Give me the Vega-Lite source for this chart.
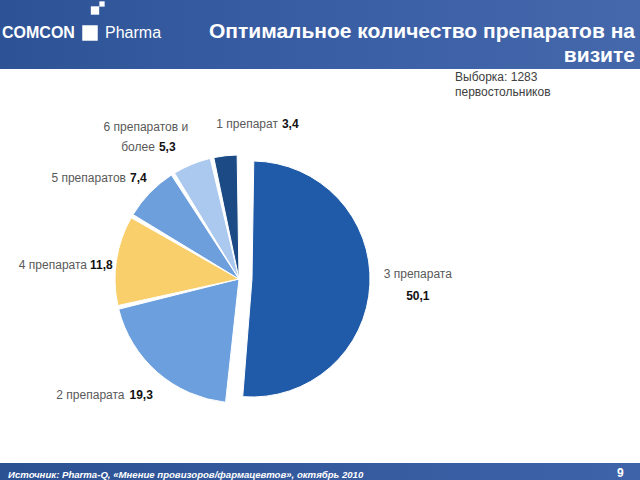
{
  "$schema": "https://vega.github.io/schema/vega-lite/v6.json",
  "padding": 0,
  "autosize": {"type": "pad"},
  "background": "#ffffff",
  "spacing": 0,
  "bounds": "flush",
  "resolve": {"scale": {"shape": "independent", "color": "independent", "opacity": "independent"}, "legend": {"shape": "independent", "color": "independent", "opacity": "independent"}},
  "config": {"view": {"stroke": null}, "concat": {"spacing": 0}, "title": {"frame": "group"}},
  "datasets": {
    "d": [
      {"cat": "3 препарата", "name": "3 препарата", "num": "50,1", "v": 50.1, "o": 1},
      {"cat": "2 препарата", "name": "2 препарата", "num": "19,3", "v": 19.3, "o": 2},
      {"cat": "4 препарата", "name": "4 препарата", "num": "11,8", "v": 11.8, "o": 3},
      {"cat": "5 препаратов", "name": "5 препаратов", "num": "7,4", "v": 7.4, "o": 4},
      {"cat": "6 препаратов и более", "name": "6 препаратов и более", "l1": "6 препаратов и", "l2": "более", "num": "5,3", "v": 5.3, "o": 5},
      {"cat": "1 препарат", "name": "1 препарат", "num": "3,4", "v": 3.4, "o": 6}
    ],
    "brand": [{"brand": "Pharma", "s1": "a", "s2": "b"}],
    "page": [{"page": "9"}],
    "one": [{"k": 1}]
  },
  "vconcat": [
    {
      "width": 640, "height": 69,
      "data": {"name": "brand"},
      "title": {"text": ["Оптимальное количество препаратов на", "визите"], "anchor": "end", "align": "right", "orient": "bottom", "baseline": "top", "offset": -48, "dx": -5, "font": "Liberation Sans", "fontSize": 21, "lineHeight": 24, "fontWeight": "bold", "color": "#ffffff"},
      "resolve": {"scale": {"shape": "independent", "color": "independent", "opacity": "independent"}},
      "layer": [
        {
          "mark": {"type": "rect", "color": {"gradient": "linear", "x1": 0, "x2": 1, "y1": 0, "y2": 0, "stops": [{"offset": 0, "color": "#2d5396"}, {"offset": 0.5, "color": "#3a5ea4"}, {"offset": 1, "color": "#4568ac"}]}}
        },
        {
          "mark": {"type": "point", "filled": true, "color": "#ffffff", "opacity": 0},
          "encoding": {
            "shape": {"field": "brand", "type": "nominal", "scale": {"range": ["square"]},
              "legend": {"orient": "none", "legendX": 2, "legendY": 25, "padding": 0,
                "title": "COMCON", "titleOrient": "left", "titleAnchor": "start", "titleBaseline": "top", "titlePadding": 7,
                "titleFont": "Liberation Sans", "titleFontSize": 16, "titleFontWeight": "bold", "titleColor": "#ffffff",
                "labelFont": "Liberation Sans", "labelFontSize": 16, "labelFontWeight": "normal", "labelColor": "#ffffff", "labelOffset": 7,
                "symbolSize": 240, "symbolFillColor": "#ffffff", "symbolStrokeColor": "#ffffff", "symbolStrokeWidth": 0, "symbolOpacity": 1}}
          }
        },
        {
          "mark": {"type": "point", "filled": true, "opacity": 0},
          "encoding": {
            "color": {"field": "s1", "type": "nominal", "scale": {"range": ["#ffffff"]},
              "legend": {"orient": "none", "legendX": 90.5, "legendY": 6, "padding": 0, "title": null,
                "labelExpr": "''", "labelFontSize": 1, "labelOffset": 0,
                "symbolType": "square", "symbolSize": 70, "symbolStrokeWidth": 0, "symbolOpacity": 1}}
          }
        },
        {
          "mark": {"type": "point", "filled": true, "color": "#ffffff", "size": 0},
          "encoding": {
            "opacity": {"field": "s2", "type": "nominal", "scale": {"range": [1]},
              "legend": {"orient": "none", "legendX": 99, "legendY": 1, "padding": 0, "title": null,
                "labelExpr": "''", "labelFontSize": 1, "labelOffset": 0,
                "symbolType": "square", "symbolSize": 28, "symbolFillColor": "#ffffff", "symbolStrokeWidth": 0}}
          }
        }
      ]
    },
    {
      "width": 640, "height": 26,
      "data": {"name": "one"},
      "mark": {"type": "rect", "color": "#ffffff"},
      "title": {"text": ["Выборка: 1283", "первостольников"], "anchor": "start", "align": "left", "orient": "bottom", "baseline": "top", "offset": -23.5, "dx": 455, "font": "Liberation Sans", "fontSize": 12, "lineHeight": 15, "fontWeight": "normal", "color": "#404040"}
    },
    {
      "width": 478, "height": 368,
      "data": {"name": "d"},
      "encoding": {
        "theta": {"field": "v", "type": "quantitative", "stack": true},
        "order": {"field": "o", "type": "quantitative"}
      },
      "layer": [
        {
          "mark": {"type": "arc", "outerRadius": 124, "padAngle": 0.03, "stroke": "#ffffff", "strokeWidth": 1},
          "encoding": {
            "color": {"field": "cat", "type": "nominal", "legend": null,
              "scale": {"domain": ["3 препарата", "2 препарата", "4 препарата", "5 препаратов", "6 препаратов и более", "1 препарат"],
                        "range": ["#1f5ba8", "#6b9fdd", "#f9cf6b", "#6c9fdc", "#abc9ef", "#1b4a85"]}},
            "opacity": {"condition": {"test": "datum.cat === '3 препарата'", "value": 0}, "value": 1}
          }
        },
        {
          "mark": {"type": "arc", "outerRadius": 118, "padAngle": 0.03, "stroke": "#ffffff", "strokeWidth": 1, "xOffset": 13},
          "encoding": {
            "color": {"field": "cat", "type": "nominal", "legend": null},
            "opacity": {"condition": {"test": "datum.cat === '3 препарата'", "value": 1}, "value": 0}
          }
        },
        {
          "mark": {"type": "text", "radius": 179, "align": "center", "baseline": "middle", "dy": -13, "font": "Liberation Sans", "fontSize": 12, "fill": "#595959"},
          "encoding": {"text": {"condition": {"test": "datum.cat === '3 препарата'", "field": "name", "type": "nominal"}, "value": ""}}
        },
        {
          "mark": {"type": "text", "radius": 179, "align": "center", "baseline": "middle", "dy": 9, "font": "Liberation Sans", "fontSize": 12, "fontWeight": "bold", "fill": "#111111"},
          "encoding": {"text": {"condition": {"test": "datum.cat === '3 препарата'", "field": "num", "type": "nominal"}, "value": ""}}
        },
        {
          "mark": {"type": "text", "radius": 156, "align": "right", "baseline": "middle", "dx": -12, "dy": -1.5, "font": "Liberation Sans", "fontSize": 12, "fill": "#595959"},
          "encoding": {"text": {"condition": {"test": "datum.cat === '2 препарата'", "field": "name", "type": "nominal"}, "value": ""}}
        },
        {
          "mark": {"type": "text", "radius": 156, "align": "left", "baseline": "middle", "dx": -7, "dy": -1.5, "font": "Liberation Sans", "fontSize": 12, "fontWeight": "bold", "fill": "#111111"},
          "encoding": {"text": {"condition": {"test": "datum.cat === '2 препарата'", "field": "num", "type": "nominal"}, "value": ""}}
        },
        {
          "mark": {"type": "text", "radius": 152, "align": "right", "baseline": "middle", "dx": -1.7, "dy": 9, "font": "Liberation Sans", "fontSize": 12, "fill": "#595959"},
          "encoding": {"text": {"condition": {"test": "datum.cat === '4 препарата'", "field": "name", "type": "nominal"}, "value": ""}}
        },
        {
          "mark": {"type": "text", "radius": 152, "align": "left", "baseline": "middle", "dx": 1.3, "dy": 9, "font": "Liberation Sans", "fontSize": 12, "fontWeight": "bold", "fill": "#111111"},
          "encoding": {"text": {"condition": {"test": "datum.cat === '4 препарата'", "field": "num", "type": "nominal"}, "value": ""}}
        },
        {
          "mark": {"type": "text", "radius": 147, "align": "right", "baseline": "middle", "dx": -7.5, "dy": 1, "font": "Liberation Sans", "fontSize": 12, "fill": "#595959"},
          "encoding": {"text": {"condition": {"test": "datum.cat === '5 препаратов'", "field": "name", "type": "nominal"}, "value": ""}}
        },
        {
          "mark": {"type": "text", "radius": 147, "align": "left", "baseline": "middle", "dx": -3.5, "dy": 1, "font": "Liberation Sans", "fontSize": 12, "fontWeight": "bold", "fill": "#111111"},
          "encoding": {"text": {"condition": {"test": "datum.cat === '5 препаратов'", "field": "num", "type": "nominal"}, "value": ""}}
        },
        {
          "mark": {"type": "text", "radius": 150, "align": "center", "baseline": "middle", "dx": -36, "dy": -13, "font": "Liberation Sans", "fontSize": 12, "fill": "#595959"},
          "encoding": {"text": {"condition": {"test": "datum.cat === '6 препаратов и более'", "field": "l1", "type": "nominal"}, "value": ""}}
        },
        {
          "mark": {"type": "text", "radius": 150, "align": "right", "baseline": "middle", "dx": -27, "dy": 7, "font": "Liberation Sans", "fontSize": 12, "fill": "#595959"},
          "encoding": {"text": {"condition": {"test": "datum.cat === '6 препаратов и более'", "field": "l2", "type": "nominal"}, "value": ""}}
        },
        {
          "mark": {"type": "text", "radius": 150, "align": "left", "baseline": "middle", "dx": -23, "dy": 7, "font": "Liberation Sans", "fontSize": 12, "fontWeight": "bold", "fill": "#111111"},
          "encoding": {"text": {"condition": {"test": "datum.cat === '6 препаратов и более'", "field": "num", "type": "nominal"}, "value": ""}}
        },
        {
          "mark": {"type": "text", "radius": 156, "align": "right", "baseline": "middle", "dx": 56, "dy": 0, "font": "Liberation Sans", "fontSize": 12, "fill": "#595959"},
          "encoding": {"text": {"condition": {"test": "datum.cat === '1 препарат'", "field": "name", "type": "nominal"}, "value": ""}}
        },
        {
          "mark": {"type": "text", "radius": 156, "align": "left", "baseline": "middle", "dx": 60, "dy": 0, "font": "Liberation Sans", "fontSize": 12, "fontWeight": "bold", "fill": "#111111"},
          "encoding": {"text": {"condition": {"test": "datum.cat === '1 препарат'", "field": "num", "type": "nominal"}, "value": ""}}
        }
      ]
    },
    {
      "width": 640, "height": 17,
      "data": {"name": "page"},
      "title": {"text": "Источник: Pharma-Q, «Мнение провизоров/фармацевтов», октябрь 2010", "anchor": "start", "orient": "bottom", "baseline": "top", "offset": -10, "dx": 8, "font": "Liberation Sans", "fontSize": 9.6, "fontWeight": "bold", "fontStyle": "italic", "color": "#ffffff"},
      "layer": [
        {
          "mark": {"type": "rect", "color": {"gradient": "linear", "x1": 0, "x2": 1, "y1": 0, "y2": 0, "stops": [{"offset": 0, "color": "#2b5193"}, {"offset": 1, "color": "#3f63a8"}]}}
        },
        {
          "mark": {"type": "point", "filled": true, "color": "#ffffff", "opacity": 0},
          "encoding": {
            "shape": {"field": "page", "type": "nominal", "scale": {"range": ["square"]},
              "legend": {"orient": "none", "legendX": 605, "legendY": 4, "padding": 0, "title": null,
                "labelFont": "Liberation Sans", "labelFontSize": 12, "labelFontWeight": "bold", "labelColor": "#ffffff", "labelOffset": 0,
                "symbolSize": 1, "symbolOpacity": 0}}
          }
        }
      ]
    }
  ]
}
